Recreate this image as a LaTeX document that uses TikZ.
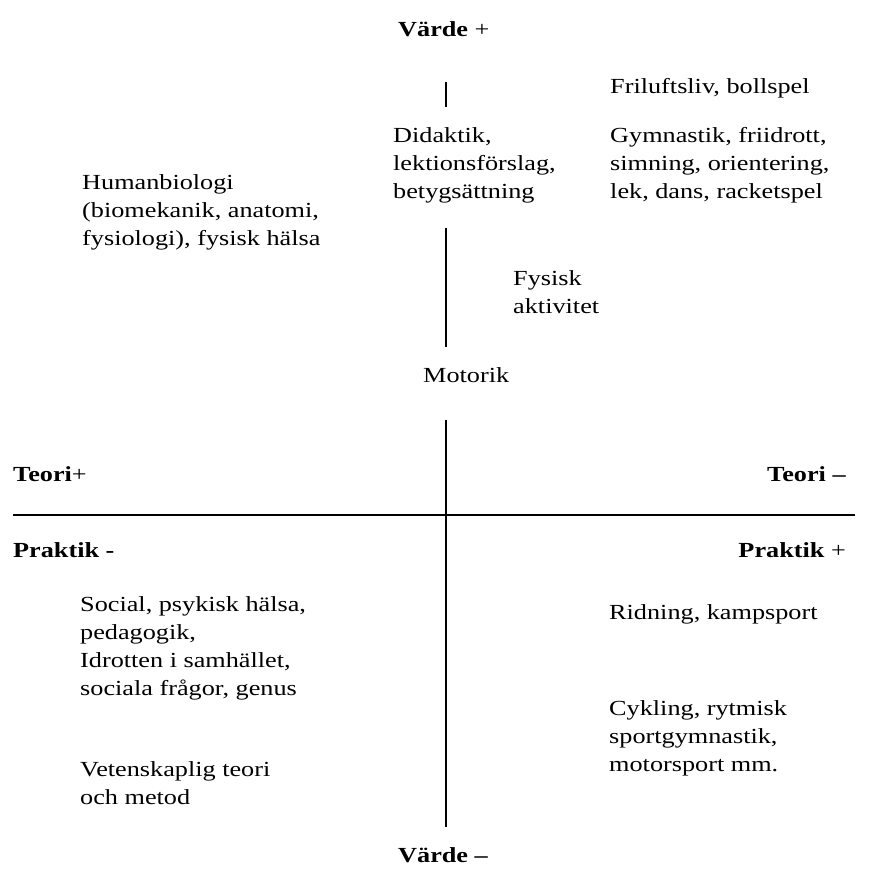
\documentclass[tikz,border=0pt]{standalone}
\usepackage{fontspec}
\setmainfont{Liberation Serif}[FakeStretch=1.22]
\usetikzlibrary{positioning}

\begin{document}
\begin{tikzpicture}[x=1pt, y=-1pt,
    lbl/.style={inner sep=0pt, anchor=base west, align=left, font=\fontsize{21.5}{28}\selectfont},
    pole/.style={inner sep=0pt, anchor=base west, font=\fontsize{21.5}{28}\selectfont},
    axis/.style={line width=2pt}]

    \useasboundingbox (0,0) rectangle (877,870);

    % Axes
    \draw[axis] (445.5,82) -- (445.5,107);
    \draw[axis] (445.5,228) -- (445.5,347);
    \draw[axis] (445.5,420) -- (445.5,827);
    \draw[axis] (13,515) -- (855,515);

    % Poles
    \node[pole] (vplus) at (398,36) {\textbf{Värde} +};
    \node[pole] (vminus) at (398,862) {\textbf{Värde –}};
    \node[pole] (tplus) at (13,481) {\textbf{Teori}+};
    \node[pole, anchor=base east] (tminus) at (846,481) {\textbf{Teori –}};
    \node[pole] (pminus) at (13,557) {\textbf{Praktik -}};
    \node[pole, anchor=base east] (pplus) at (846,557) {\textbf{Praktik} +};

    % Upper half (y = baseline of last line)
    \node[lbl] (fri) at (610,93) {Friluftsliv, bollspel};
    \node[lbl] (gym) at (610,198) {Gymnastik, friidrott,\\simning, orientering,\\lek, dans, racketspel};
    \node[lbl] (did) at (393,198) {Didaktik,\\lektionsförslag,\\betygsättning};
    \node[lbl] (hum) at (82,245) {Humanbiologi\\(biomekanik, anatomi,\\fysiologi), fysisk hälsa};
    \node[lbl] (fys) at (513,313) {Fysisk\\aktivitet};
    \node[lbl] (mot) at (423,382) {Motorik};

    % Lower half
    \node[lbl] (soc) at (80,639) {Social, psykisk hälsa,\\pedagogik,};
    \node[lbl] (idr) at (80,695) {Idrotten i samhället,\\sociala frågor, genus};
    \node[lbl] (vet) at (80,804) {Vetenskaplig teori\\och metod};
    \node[lbl] (rid) at (609,619) {Ridning, kampsport};
    \node[lbl] (cyk) at (609,771) {Cykling, rytmisk\\sportgymnastik,\\motorsport mm.};
\end{tikzpicture}
\end{document}
